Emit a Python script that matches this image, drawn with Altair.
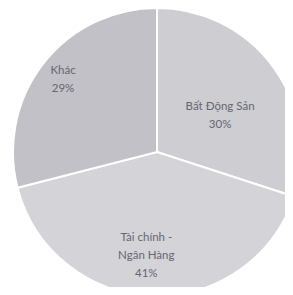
import altair as alt
import pandas as pd

categories = ["Bất Động Sản", "Tài chính - Ngân Hàng", "Khác"]
values = [30, 41, 29]
labels = ["Bất Động Sản\n30%", "Tài chính -\nNgân Hàng\n41%", "Khác\n29%"]
colors = ["#cdcdd2", "#d3d3d8", "#c1c1c7"]

df = pd.DataFrame({"category": categories, "value": values, "label": labels,
                   "order": list(range(len(categories)))})

theta_scale = alt.Scale(domain=[0, 100], range=[0, 6.283185307179586])

pie = alt.Chart(df).mark_arc(outerRadius=144, stroke="white", strokeWidth=2).encode(
    theta=alt.Theta("value:Q", stack=True, scale=theta_scale),
    order=alt.Order("order:Q"),
    x=alt.value(149),
    y=alt.value(144),
    color=alt.Color("category:N", scale=alt.Scale(domain=categories, range=colors), legend=None),
)

def lab(cat, r, dx=0, dy=0):
    return alt.Chart(df).transform_window(
        cum="sum(value)", sort=[alt.SortField("order")], frame=[None, 0]
    ).transform_calculate(
        mid="datum.cum - datum.value / 2"
    ).transform_filter(alt.datum.category == cat).mark_text(
        radius=r, dx=dx, dy=dy, lineBreak="\n", font="Lato", fontSize=11.5,
        lineHeight=18, color="#666670"
    ).encode(
        theta=alt.Theta("mid:Q", stack=None, scale=theta_scale),
        x=alt.value(149),
        y=alt.value(144),
        text="label:N",
    )

chart = alt.layer(
    pie,
    lab(categories[0], 78, 0, 1),
    lab(categories[1], 86, -8, 0),
    lab(categories[2], 124, 4, -5),
).properties(width=277, height=279, padding=0, autosize="none",
             background="white").configure_view(strokeWidth=0)

chart.save("out.html", embed_options={"renderer": "svg", "actions": False})
